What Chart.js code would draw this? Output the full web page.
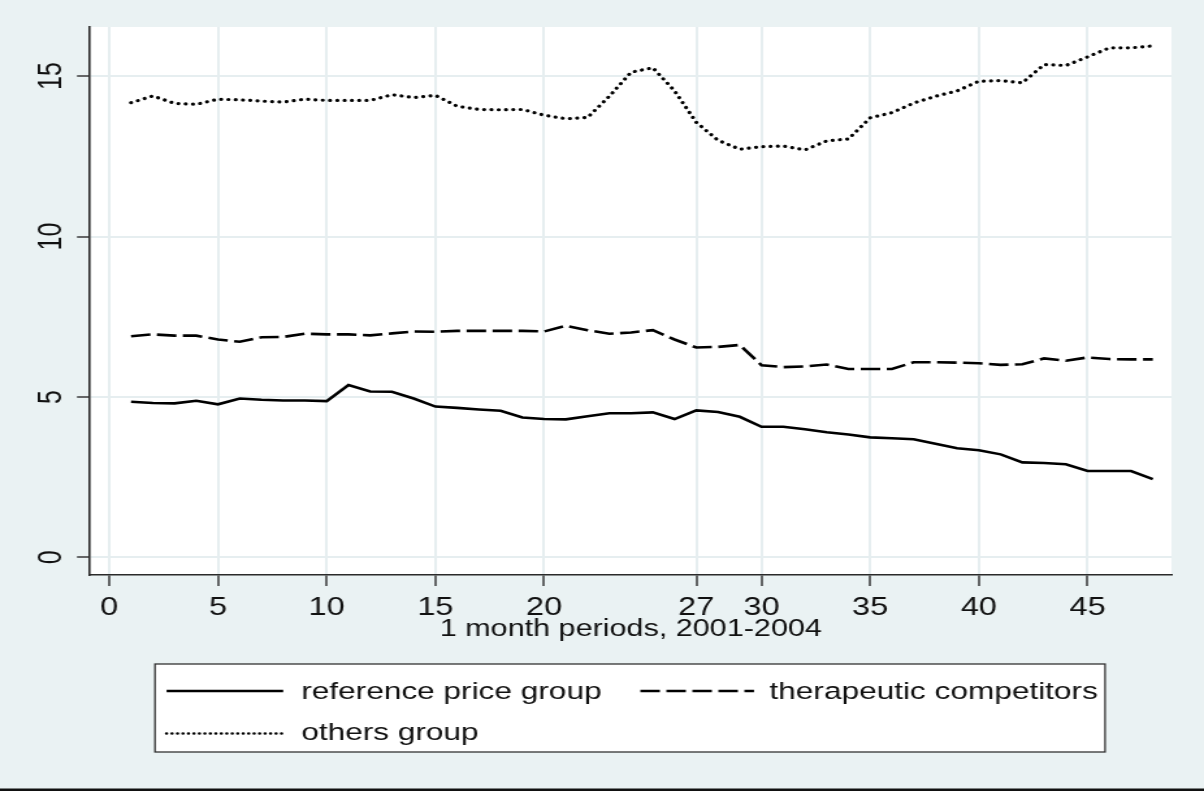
<!DOCTYPE html>
<html>
<head>
<meta charset="utf-8">
<script src="https://cdn.jsdelivr.net/npm/chart.js@4/dist/chart.umd.min.js"></script>
<style>
  html, body { margin: 0; padding: 0; background: #EAF2F3; overflow: hidden; }
  #c { display: block; transform: scaleX(1.30022); transform-origin: 0 0; }
</style>
</head>
<body>
<canvas id="c" width="926" height="791"></canvas>
<script>
// ---- data ----
const periods = [1,2,3,4,5,6,7,8,9,10,11,12,13,14,15,16,17,18,19,20,21,22,23,24,25,26,27,28,29,30,31,32,33,34,35,36,37,38,39,40,41,42,43,44,45,46,47,48];
const referencePriceGroup = [4.85,4.81,4.80,4.88,4.77,4.95,4.91,4.89,4.89,4.87,5.37,5.17,5.16,4.95,4.70,4.66,4.61,4.57,4.36,4.31,4.30,4.40,4.49,4.49,4.52,4.31,4.58,4.53,4.38,4.07,4.07,3.99,3.90,3.83,3.74,3.71,3.68,3.54,3.40,3.34,3.21,2.96,2.94,2.90,2.69,2.69,2.69,2.44];
const therapeuticCompetitors = [6.89,6.95,6.91,6.91,6.79,6.72,6.86,6.87,6.97,6.95,6.95,6.92,6.98,7.04,7.03,7.06,7.06,7.06,7.06,7.04,7.22,7.08,6.97,7.01,7.08,6.79,6.54,6.56,6.62,5.99,5.93,5.95,6.01,5.87,5.87,5.87,6.08,6.08,6.07,6.05,6.00,6.02,6.20,6.13,6.23,6.18,6.17,6.17];
const othersGroup = [14.17,14.38,14.15,14.12,14.28,14.26,14.22,14.19,14.28,14.24,14.24,14.24,14.42,14.33,14.40,14.06,13.96,13.95,13.96,13.78,13.67,13.71,14.37,15.12,15.26,14.54,13.56,13.00,12.72,12.80,12.82,12.70,12.98,13.04,13.70,13.86,14.16,14.37,14.54,14.84,14.86,14.79,15.36,15.33,15.60,15.88,15.88,15.94];
const seriesNames = ['reference price group', 'therapeutic competitors', 'others group'];
const xTickValues = [0,5,10,15,20,27,30,35,40,45];
const yTickValues = [0,5,10,15];
const xAxisTitle = '1 month periods, 2001-2004';

const FONT = "'Liberation Sans', Arial, Helvetica, sans-serif";
Chart.defaults.font.family = FONT;
Chart.defaults.color = '#111';

const BG = '#EAF2F3';
const GRID = '#E6EEF0';
const AXIS = '#2a2a2a';

function toPoints(vals) { return periods.map((p, i) => ({ x: p, y: vals[i] })); }

const bgPlugin = {
  id: 'bgPlugin',
  beforeDraw(chart) {
    const { ctx, chartArea: a, width, height } = chart;
    ctx.save();
    ctx.fillStyle = BG;
    ctx.fillRect(0, 0, width, height);
    ctx.fillStyle = '#ffffff';
    ctx.fillRect(a.left, a.top, a.right - a.left, a.bottom - a.top);
    ctx.fillStyle = '#111';
    ctx.fillRect(0, height - 2.5, width, 2.5);
    ctx.restore();
  }
};

const legendPlugin = {
  id: 'stataLegend',
  afterDraw(chart) {
    const ctx = chart.ctx;
    const ds = chart.data.datasets;
    ctx.save();
    const L = 119.2, R = 849.9, T = 664, B = 752;
    ctx.fillStyle = '#ffffff';
    ctx.fillRect(L, T, R - L, B - T);
    ctx.strokeStyle = '#333';
    ctx.lineWidth = 1.3;
    ctx.strokeRect(L, T, R - L, B - T);
    const items = [
      { i: 0, x0: 128.1, x1: 217.8, tx: 231.7, ly: 691, by: 698.7 },
      { i: 1, x0: 492.5, x1: 579.9, tx: 591.8, ly: 691, by: 698.7 },
      { i: 2, x0: 128.1, x1: 217.8, tx: 231.7, ly: 733.5, by: 740.3 }
    ];
    ctx.font = '24.3px ' + FONT;
    ctx.textBaseline = 'alphabetic';
    ctx.textAlign = 'left';
    for (const it of items) {
      const d = ds[it.i];
      ctx.save();
      ctx.strokeStyle = d.borderColor;
      ctx.lineWidth = it.i === 2 ? 2.6 : d.borderWidth;
      ctx.lineCap = d.borderCapStyle || 'butt';
      ctx.setLineDash(it.i === 2 ? [0.01, 4.2] : (d.borderDash || []));
      ctx.beginPath();
      ctx.moveTo(it.x0, it.ly);
      ctx.lineTo(it.x1, it.ly);
      ctx.stroke();
      ctx.restore();
      ctx.fillStyle = '#111';
      ctx.fillText(d.label, it.tx, it.by);
    }
    ctx.restore();
  }
};

new Chart(document.getElementById('c'), {
  type: 'line',
  data: {
    datasets: [
      { label: seriesNames[0], data: toPoints(referencePriceGroup), borderColor: '#000', borderWidth: 2.6, pointRadius: 0, tension: 0, fill: false, borderCapStyle: 'butt' },
      { label: seriesNames[1], data: toPoints(therapeuticCompetitors), borderColor: '#000', borderWidth: 2.6, borderDash: [15, 5], pointRadius: 0, tension: 0, fill: false, borderCapStyle: 'butt' },
      { label: seriesNames[2], data: toPoints(othersGroup), borderColor: '#000', borderWidth: 3.2, borderDash: [0.01, 5.6], borderCapStyle: 'round', pointRadius: 0, tension: 0, fill: false }
    ]
  },
  options: {
    responsive: false,
    animation: false,
    devicePixelRatio: 1,
    layout: { padding: { left: 0, right: 25, top: 27, bottom: 147 } },
    plugins: { legend: { display: false }, tooltip: { enabled: false }, title: { display: false } },
    scales: {
      x: {
        type: 'linear',
        min: -0.888,
        max: 48.86,
        afterBuildTicks(scale) { scale.ticks = xTickValues.map(v => ({ value: v })); },
        afterFit(scale) { scale.height = 69; },
        ticks: { font: { size: 25 }, color: '#111', padding: 7, maxRotation: 0, autoSkip: false, callback: v => String(v) },
        grid: { color: GRID, lineWidth: 2, drawTicks: true, tickLength: 11, tickColor: AXIS, tickWidth: 1.4 },
        border: { display: true, color: AXIS, width: 1.6 },
        title: { display: true, text: xAxisTitle, font: { size: 23.5 }, color: '#111', padding: { top: 0, bottom: 0 } }
      },
      y: {
        type: 'linear',
        min: -0.55,
        max: 16.53,
        afterBuildTicks(scale) { scale.ticks = yTickValues.map(v => ({ value: v })); },
        afterFit(scale) { scale.width = 69.22; },
        ticks: { font: { size: 25 }, color: '#111', padding: 4.8, minRotation: 90, maxRotation: 90, crossAlign: 'center', autoSkip: false, callback: v => String(v) },
        grid: { color: GRID, lineWidth: 2, drawTicks: true, tickLength: 10, tickColor: AXIS, tickWidth: 1.4 },
        border: { display: true, color: AXIS, width: 1.6 }
      }
    }
  },
  plugins: [bgPlugin, legendPlugin]
});
</script>
</body>
</html>
